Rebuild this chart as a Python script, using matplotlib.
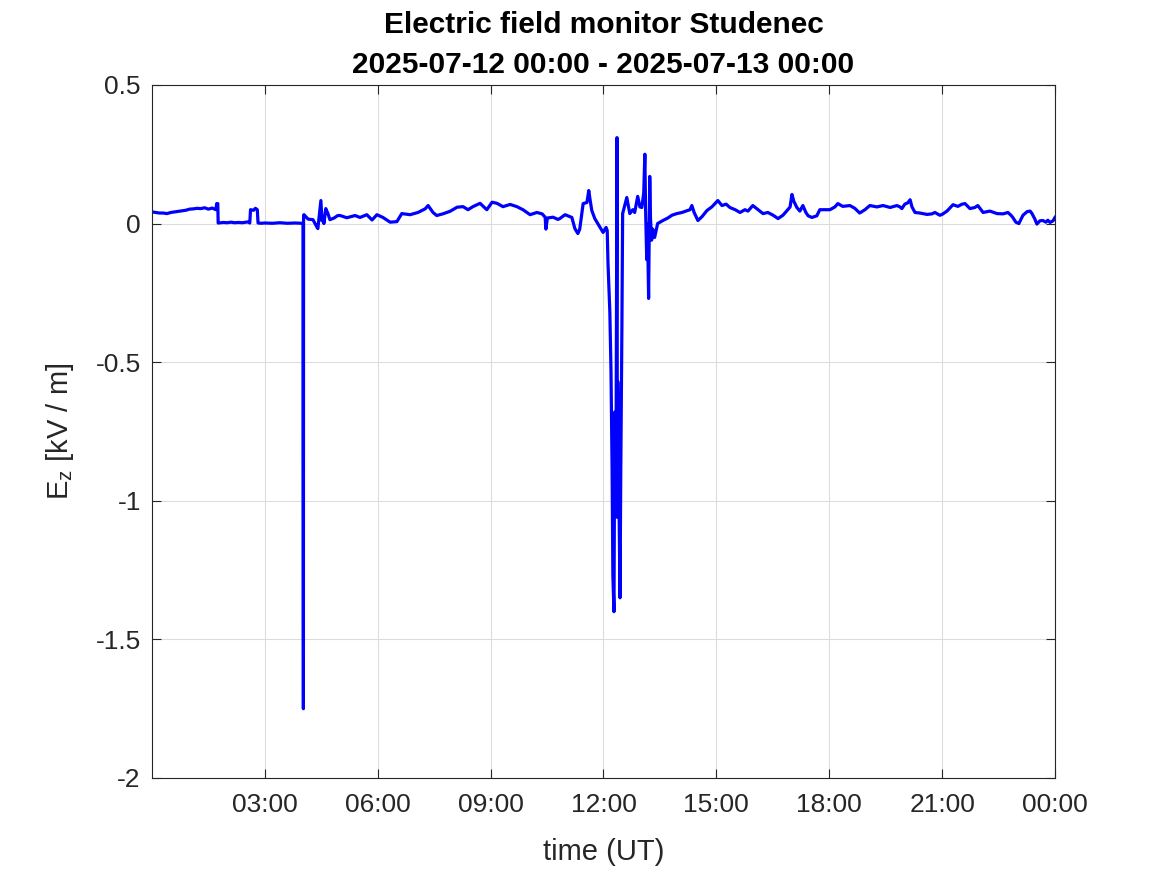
import matplotlib
matplotlib.use("Agg")
import matplotlib.pyplot as plt

plt.rcParams["font.family"] = ["Liberation Sans", "DejaVu Sans"]
plt.rcParams["mathtext.fontset"] = "custom"
plt.rcParams["mathtext.rm"] = "Liberation Sans"
plt.rcParams["mathtext.it"] = "Liberation Sans"

# ----------------------------
# Data (hours UT since 2025-07-12 00:00, Ez in kV/m)
# ----------------------------
hours = [
    0.00, 0.10, 0.20, 0.30, 0.40, 0.50, 0.60, 0.70, 0.80, 0.90,
    1.00, 1.10, 1.20, 1.30, 1.40, 1.50, 1.60, 1.70, 1.72, 1.75,
    1.76, 1.90, 2.00, 2.10, 2.20, 2.30, 2.40, 2.55, 2.60, 2.62,
    2.70, 2.75, 2.80, 2.82, 2.90, 3.00, 3.20, 3.40, 3.60, 3.80,
    4.00, 4.015, 4.018, 4.025, 4.03, 4.04, 4.15, 4.28, 4.39, 4.41,
    4.44, 4.49, 4.52, 4.55, 4.57, 4.62, 4.68, 4.73, 4.84, 4.94,
    5.00, 5.18, 5.40, 5.53, 5.71, 5.85, 5.98, 6.14, 6.33, 6.51,
    6.64, 6.86, 7.07, 7.26, 7.34, 7.47, 7.57, 7.73, 7.92, 8.11,
    8.27, 8.40, 8.53, 8.72, 8.90, 9.04, 9.17, 9.33, 9.52, 9.70,
    9.86, 10.05, 10.23, 10.37, 10.45, 10.47, 10.51, 10.66, 10.79, 10.84,
    10.98, 11.16, 11.24, 11.32, 11.37, 11.46, 11.56, 11.61, 11.64, 11.69,
    11.77, 11.91, 11.99, 12.07, 12.10, 12.12, 12.17, 12.20, 12.23, 12.25,
    12.28, 12.30, 12.33, 12.36, 12.37, 12.38, 12.41, 12.44, 12.46, 12.49,
    12.51, 12.62, 12.70, 12.78, 12.83, 12.91, 12.97, 13.02, 13.07, 13.10,
    13.12, 13.15, 13.17, 13.20, 13.23, 13.25, 13.28, 13.31, 13.36, 13.44,
    13.58, 13.71, 13.82, 13.95, 14.09, 14.19, 14.30, 14.35, 14.41, 14.51,
    14.62, 14.75, 14.88, 15.04, 15.15, 15.26, 15.36, 15.50, 15.63, 15.76,
    15.84, 15.97, 16.11, 16.24, 16.37, 16.51, 16.64, 16.77, 16.88, 16.96,
    17.01, 17.06, 17.14, 17.22, 17.30, 17.38, 17.44, 17.54, 17.67, 17.75,
    17.89, 18.02, 18.15, 18.23, 18.36, 18.55, 18.68, 18.81, 18.95, 19.08,
    19.27, 19.43, 19.62, 19.80, 19.88, 19.93, 20.01, 20.09, 20.15, 20.20,
    20.28, 20.41, 20.60, 20.73, 20.81, 20.94, 21.00, 21.13, 21.29, 21.42,
    21.53, 21.61, 21.74, 21.87, 21.95, 22.09, 22.27, 22.46, 22.62, 22.75,
    22.83, 22.88, 22.96, 23.04, 23.15, 23.26, 23.34, 23.39, 23.47, 23.52,
    23.60, 23.68, 23.76, 23.81, 23.87, 23.95, 24.00,
]
ez = [
    0.042, 0.040, 0.038, 0.038, 0.036, 0.040, 0.042, 0.044, 0.046, 0.048,
    0.052, 0.053, 0.055, 0.054, 0.057, 0.052, 0.056, 0.050, 0.072, 0.072,
    0.002, 0.004, 0.003, 0.005, 0.003, 0.004, 0.003, 0.006, 0.002, 0.050,
    0.048, 0.055, 0.050, 0.002, 0.001, 0.002, 0.001, 0.003, 0.001, 0.002,
    0.001, 0.000, -0.83, -1.75, 0.030, 0.032, 0.016, 0.014, -0.014, -0.018,
    0.020, 0.083, 0.010, 0.020, 0.000, 0.054, 0.035, 0.014, 0.020, 0.029,
    0.029, 0.021, 0.029, 0.022, 0.032, 0.013, 0.032, 0.022, 0.005, 0.007,
    0.036, 0.032, 0.040, 0.053, 0.065, 0.040, 0.029, 0.035, 0.044, 0.059,
    0.061, 0.050, 0.061, 0.073, 0.050, 0.077, 0.073, 0.061, 0.069, 0.061,
    0.050, 0.032, 0.040, 0.035, 0.023, -0.020, 0.020, 0.023, 0.015, 0.018,
    0.032, 0.022, -0.018, -0.036, -0.020, 0.072, 0.076, 0.119, 0.090, 0.047,
    0.018, -0.014, -0.032, -0.014, -0.025, -0.14, -0.32, -0.53, -0.89, -1.27,
    -1.40, -0.68, -1.05, 0.31, -1.06, -0.57, -0.95, -1.35, -0.90, -0.38,
    0.036, 0.094, 0.036, 0.050, 0.040, 0.098, 0.060, 0.058, 0.110, 0.250,
    0.050, -0.13, 0.000, -0.27, 0.170, 0.020, -0.060, -0.020, -0.050, 0.000,
    0.011, 0.020, 0.030, 0.036, 0.040, 0.045, 0.050, 0.065, 0.040, 0.011,
    0.025, 0.047, 0.060, 0.083, 0.065, 0.070, 0.058, 0.050, 0.040, 0.050,
    0.045, 0.065, 0.050, 0.036, 0.040, 0.030, 0.018, 0.030, 0.047, 0.060,
    0.105, 0.080, 0.058, 0.045, 0.065, 0.040, 0.028, 0.022, 0.028, 0.050,
    0.050, 0.050, 0.060, 0.072, 0.062, 0.065, 0.055, 0.038, 0.050, 0.065,
    0.060, 0.065, 0.058, 0.065, 0.060, 0.054, 0.070, 0.075, 0.086, 0.060,
    0.040, 0.038, 0.033, 0.035, 0.040, 0.030, 0.033, 0.045, 0.068, 0.062,
    0.070, 0.072, 0.054, 0.058, 0.065, 0.040, 0.045, 0.036, 0.035, 0.040,
    0.030, 0.022, 0.005, 0.000, 0.030, 0.043, 0.045, 0.036, 0.015, -0.002,
    0.010, 0.011, 0.005, 0.012, 0.004, 0.010, 0.022,
]

xtick_pos = [3, 6, 9, 12, 15, 18, 21, 24]
xtick_labels = ["03:00", "06:00", "09:00", "12:00", "15:00", "18:00", "21:00", "00:00"]
ytick_pos = [-2, -1.5, -1, -0.5, 0, 0.5]
ytick_labels = ["-2", "-1.5", "-1", "-0.5", "0", "0.5"]

# ----------------------------
# Plot
# ----------------------------
fig = plt.figure(figsize=(11.67, 8.75), dpi=100)
ax = fig.add_axes([0.1302, 0.1109, 0.7738, 0.7920])

ax.plot(hours, ez, color="#0000ff", linewidth=2.3)

ax.set_xlim(0, 24)
ax.set_ylim(-2, 0.5)
ax.set_xticks(xtick_pos)
ax.set_xticklabels(xtick_labels)
ax.set_yticks(ytick_pos)
ax.set_yticklabels(ytick_labels)

ax.grid(True, color="#dcdcdc", linewidth=0.8)
ax.set_axisbelow(True)
for s in ax.spines.values():
    s.set_color("#262626")
    s.set_linewidth(0.8)

ax.tick_params(axis="both", direction="in", length=6.5, width=0.8,
               colors="#262626", labelsize=19, top=True, right=True)
ax.tick_params(axis="x", pad=11)
ax.tick_params(axis="y", pad=8)

ax.set_xlabel("time (UT)", fontsize=21, color="#262626", labelpad=15)
ax.set_ylabel(r"$\mathrm{E_z}$ [kV / m]", fontsize=21, color="#262626", labelpad=14)
ax.set_title("Electric field monitor Studenec\n2025-07-12 00:00 - 2025-07-13 00:00",
             fontsize=21.5, fontweight="bold", pad=8.5, linespacing=1.55)

plt.savefig("out.png", dpi=100)
plt.close()
